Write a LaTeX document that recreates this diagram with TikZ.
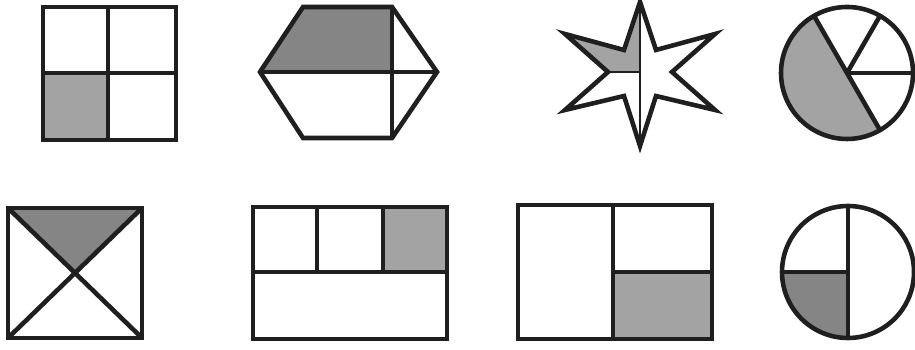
\documentclass[tikz,border=0pt]{standalone}
\definecolor{partdark}{gray}{0.52}
\definecolor{partlight}{gray}{0.64}
\begin{document}
\begin{tikzpicture}[x=0.02cm, y=0.02cm, line width=2.6pt, color=black!88,
  darkpart/.style={fill=partdark}, lightpart/.style={fill=partlight}]
\useasboundingbox (0,0) rectangle (915,350);
% top row
\fill[lightpart] (43,210) rectangle (108,277);
\draw (43,210) rectangle (176,343);
\draw (108,210) -- (108,343);
\draw (43,277) -- (176,277);
\fill[darkpart] (260,278) -- (303,343) -- (392,343) -- (392,278) -- cycle;
\draw (260,278) -- (303,343) -- (392,343) -- (437,278) -- (392,212) -- (303,212) -- cycle;
\draw (260,278) -- (437,278);
\draw (392,343) -- (392,212);
\fill[lightpart] (608,278) -- (565,316) -- (624,300) -- (640,348) -- (640,278) -- cycle;
\draw[line join=miter] (640,348) -- (656,300) -- (715,316) -- (672,278) -- (715,240) -- (656,254)
  -- (640,204) -- (624,254) -- (565,240) -- (608,278) -- (565,316) -- (624,300) -- cycle;
\draw[line width=1.4pt] (640,348) -- (640,204);
\draw[line width=1.4pt] (608,278) -- (640,278);
\fill[lightpart] (847,277) -- ++(120:66) arc (120:300:66) -- cycle;
\draw (847,277) circle (66);
\draw (847,277) ++(120:66) -- ++(300:132);
\draw (847,277) -- ++(60:66);
\draw (847,277) -- ++(0:66);
% bottom row
\fill[darkpart] (8,142) -- (142,142) -- (75,77) -- cycle;
\draw (8,12) rectangle (142,142);
\draw (8,142) -- (142,12);
\draw (8,12) -- (142,142);
\fill[lightpart] (383,78) rectangle (447,143);
\draw (253,11) rectangle (447,143);
\draw (253,78) -- (447,78);
\draw (317,78) -- (317,143);
\draw (383,78) -- (383,143);
\fill[lightpart] (613,11) rectangle (712,78);
\draw (518,11) rectangle (712,145);
\draw (613,11) -- (613,145);
\draw (613,78) -- (712,78);
\fill[darkpart] (848,78) -- (782,78) arc (180:270:66) -- cycle;
\draw (848,78) circle (66);
\draw (848,144) -- (848,12);
\draw (782,78) -- (848,78);
\end{tikzpicture}
\end{document}
